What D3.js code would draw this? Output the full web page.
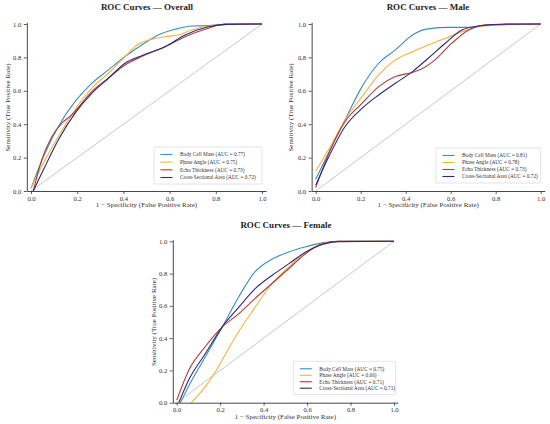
<!DOCTYPE html>
<html>
<head>
<meta charset="utf-8">
<script src="https://cdn.jsdelivr.net/npm/d3@7"></script>
<style>
  html, body { margin: 0; padding: 0; background: #fff; }
  svg { display: block; font-family: "Liberation Serif", "Times New Roman", serif; }
</style>
</head>
<body>
<svg id="chart" width="550" height="424"></svg>
<script>
// ---------- DATA ----------
const seriesNames = ["Body Cell Mass", "Phase Angle", "Echo Thickness", "Cross-Sectional Area"];
const seriesColors = ["#3a8dc1", "#f2b33a", "#b23a40", "#2c2a7c"];
const tickValues = [0, 0.2, 0.4, 0.6, 0.8, 1.0];

const panelTitles = ["ROC Curves \u2014 Overall", "ROC Curves \u2014 Male", "ROC Curves \u2014 Female"];
const overallAUC = ["0.77", "0.75", "0.73", "0.72"];
const maleAUC = ["0.81", "0.78", "0.73", "0.72"];
const femaleAUC = ["0.75", "0.66", "0.71", "0.71"];

// [FPR, TPR] points
const overallBCM = [[0,0.016],[0.06,0.225],[0.118,0.385],[0.19,0.535],[0.263,0.645],[0.335,0.725],[0.407,0.805],[0.479,0.874],[0.551,0.934],[0.623,0.968],[0.696,0.988],[0.768,0.99],[0.84,0.996],[0.92,1.0],[1,1]];
const overallPA = [[0,0.016],[0.06,0.185],[0.118,0.325],[0.176,0.455],[0.22,0.545],[0.263,0.615],[0.335,0.705],[0.407,0.805],[0.465,0.88],[0.522,0.908],[0.58,0.924],[0.638,0.934],[0.696,0.964],[0.768,0.988],[0.84,0.998],[1,1]];
const overallET = [[0.01,0],[0.046,0.185],[0.09,0.325],[0.133,0.405],[0.176,0.455],[0.263,0.595],[0.335,0.675],[0.407,0.755],[0.479,0.805],[0.58,0.864],[0.667,0.924],[0.768,0.974],[0.84,1.0],[1,1]];
const overallCSA = [[0.01,0],[0.06,0.145],[0.118,0.305],[0.19,0.465],[0.263,0.585],[0.335,0.675],[0.407,0.765],[0.479,0.81],[0.58,0.864],[0.667,0.934],[0.768,0.984],[0.84,0.998],[1,1]];

const maleBCM = [[0,0.07],[0.13,0.425],[0.206,0.625],[0.28,0.765],[0.354,0.845],[0.43,0.934],[0.487,0.968],[0.576,0.98],[0.68,0.98],[0.77,0.996],[1,1]];
const malePA = [[0,0.12],[0.073,0.285],[0.13,0.425],[0.206,0.565],[0.28,0.695],[0.354,0.785],[0.43,0.834],[0.5,0.874],[0.576,0.914],[0.65,0.954],[0.724,0.984],[0.85,0.998],[1,1]];
const maleET = [[0,0.02],[0.058,0.225],[0.13,0.415],[0.206,0.525],[0.28,0.625],[0.354,0.685],[0.43,0.71],[0.47,0.73],[0.53,0.785],[0.605,0.885],[0.68,0.964],[0.754,0.994],[1,1]];
const maleCSA = [[0,0.035],[0.058,0.205],[0.13,0.385],[0.206,0.495],[0.28,0.575],[0.354,0.645],[0.43,0.715],[0.5,0.795],[0.576,0.885],[0.65,0.964],[0.724,0.988],[0.85,1.0],[1,1]];

const femaleBCM = [[0.017,0],[0.07,0.14],[0.13,0.28],[0.21,0.47],[0.285,0.655],[0.36,0.81],[0.44,0.89],[0.515,0.934],[0.59,0.965],[0.67,0.99],[0.745,1.0],[1,1]];
const femalePA = [[0.067,0],[0.13,0.097],[0.178,0.19],[0.224,0.30],[0.285,0.44],[0.36,0.59],[0.44,0.74],[0.515,0.84],[0.59,0.93],[0.67,0.985],[0.745,1.0],[1,1]];
const femaleET = [[0,0.015],[0.055,0.2],[0.13,0.345],[0.21,0.47],[0.285,0.55],[0.36,0.645],[0.44,0.74],[0.515,0.83],[0.59,0.92],[0.67,0.985],[0.745,1.0],[1,1]];
const femaleCSA = [[0.01,0],[0.055,0.14],[0.13,0.30],[0.21,0.47],[0.285,0.59],[0.36,0.705],[0.44,0.79],[0.515,0.86],[0.59,0.93],[0.67,0.98],[0.745,0.998],[1,1]];

// ---------- LAYOUT ----------
const panels = [
  { title: panelTitles[0], auc: overallAUC, curves: [overallBCM, overallPA, overallET, overallCSA],
    x0: 31, x1: 262, y0: 191, y1: 24, titleX: 147, titleY: 10, ylabX: 8,
    leg: { x: 154, y: 147, w: 108, h: 37 } },
  { title: panelTitles[1], auc: maleAUC, curves: [maleBCM, malePA, maleET, maleCSA],
    x0: 315.7, x1: 540.7, y0: 191, y1: 24, titleX: 428, titleY: 10, ylabX: 291,
    leg: { x: 436, y: 148, w: 104.7, h: 35 } },
  { title: panelTitles[2], auc: femaleAUC, curves: [femaleBCM, femalePA, femaleET, femaleCSA],
    x0: 176.7, x1: 394, y0: 402.7, y1: 241.3, titleX: 286, titleY: 228, ylabX: 154,
    leg: { x: 293.3, y: 361.3, w: 102.4, h: 33.4 } }
];

const xlim = [-0.018, 1.018];
const ylim = [0, 1.01];

const svg = d3.select("#chart");

panels.forEach(p => {
  const g = svg.append("g");
  const ux = p.x1 - p.x0, uy = p.y0 - p.y1;
  const x = d3.scaleLinear().domain(xlim).range([p.x0 + xlim[0] * ux, p.x0 + xlim[1] * ux]);
  const y = d3.scaleLinear().domain(ylim).range([p.y0 - ylim[0] * uy, p.y0 - ylim[1] * uy]);

  // diagonal reference
  g.append("line")
    .attr("x1", x(0)).attr("y1", y(0)).attr("x2", x(1)).attr("y2", y(1))
    .attr("stroke", "#b0b0b0").attr("stroke-width", 0.7);

  // curves
  const line = d3.line().x(d => x(d[0])).y(d => y(d[1])).curve(d3.curveMonotoneX);
  p.curves.forEach((c, i) => {
    g.append("path").datum(c).attr("d", line)
      .attr("fill", "none").attr("stroke", seriesColors[i]).attr("stroke-width", 1.1)
      .attr("stroke-linejoin", "round");
  });

  // axes
  const xAxis = d3.axisBottom(x).tickValues(tickValues).tickFormat(d3.format(".1f")).tickSize(3).tickSizeOuter(0).tickPadding(2);
  const yAxis = d3.axisLeft(y).tickValues(tickValues).tickFormat(d3.format(".1f")).tickSize(3).tickSizeOuter(0).tickPadding(2.5);
  const gx = g.append("g").attr("transform", `translate(0,${p.y0})`).call(xAxis);
  const gy = g.append("g").attr("transform", `translate(${x(xlim[0])},0)`).call(yAxis);
  [gx, gy].forEach(a => {
    a.select(".domain").attr("stroke", "#333").attr("stroke-width", 0.9);
    a.selectAll(".tick line").attr("stroke", "#333").attr("stroke-width", 0.8);
    a.selectAll(".tick text").attr("fill", "#333").style("font-size", "6.6px")
      .style("font-family", "Liberation Serif, serif");
  });

  // title
  g.append("text").attr("x", p.titleX).attr("y", p.titleY).attr("text-anchor", "middle")
    .style("font-size", "9px").style("font-weight", "bold").attr("fill", "#222").text(p.title);

  // axis labels
  g.append("text").attr("x", (p.x0 + p.x1) / 2).attr("y", p.y0 + 16.3).attr("text-anchor", "middle")
    .style("font-size", "7px").attr("fill", "#333").text("1 \u2212 Specificity (False Positive Rate)");
  g.append("text").attr("transform", `translate(${p.ylabX},${(p.y0 + p.y1) / 2}) rotate(-90)`)
    .attr("text-anchor", "middle").attr("dy", "0.35em")
    .style("font-size", "7px").attr("fill", "#333").text("Sensitivity (True Positive Rate)");

  // legend
  const L = p.leg;
  const lg = g.append("g");
  lg.append("rect").attr("x", L.x).attr("y", L.y).attr("width", L.w).attr("height", L.h)
    .attr("rx", 1).attr("fill", "#fff").attr("fill-opacity", 0.9)
    .attr("stroke", "#d0d0d0").attr("stroke-width", 0.6);
  seriesNames.forEach((n, i) => {
    const ry = L.y + 7.5 + i * (L.h - 14) / 3;
    lg.append("line").attr("x1", L.x + 6.5).attr("x2", L.x + 18.5).attr("y1", ry).attr("y2", ry)
      .attr("stroke", seriesColors[i]).attr("stroke-width", 1.1);
    lg.append("text").attr("x", L.x + 26).attr("y", ry).attr("dy", "0.35em")
      .style("font-size", "5.3px").attr("fill", "#333")
      .text(`${n} (AUC = ${p.auc[i]})`);
  });
});
</script>
</body>
</html>
